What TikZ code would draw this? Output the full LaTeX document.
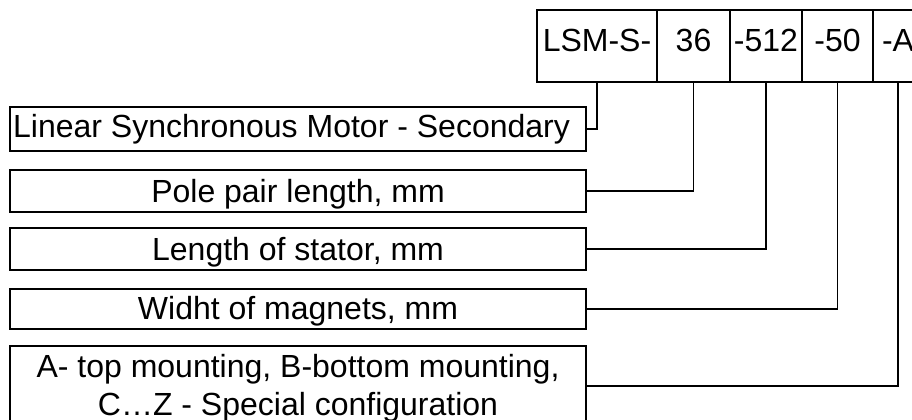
\documentclass[tikz,border=0pt]{standalone}
\usepackage{fontspec}
\setmainfont{Liberation Sans}
\begin{document}
\begin{tikzpicture}[x=1bp,y=-1bp,
  box/.style={draw=black,line width=1.4bp,rectangle,inner sep=0pt,fill=white},
  txt/.style={inner sep=0pt,font=\fontsize{32bp}{38bp}\selectfont,text=black},
  wire/.style={draw=black,line width=1.4bp}]
\useasboundingbox (0,0) rectangle (912,419);
\clip (0,0) rectangle (912,419);
\fill[white] (0,0) rectangle (912,419);
% top code boxes
\node[box,minimum width=120bp,minimum height=72bp] (c1) at (597,46) {};
\node[box,minimum width=73bp,minimum height=72bp] (c2) at (693.5,46) {};
\node[box,minimum width=72bp,minimum height=72bp] (c3) at (766,46) {};
\node[box,minimum width=71bp,minimum height=72bp] (c4) at (837.5,46) {};
\node[box,minimum width=50bp,minimum height=72bp] (c5) at (898,46) {};
\node[txt,anchor=base] (tc1) at (597,51) {LSM-S-};
\node[txt,anchor=base] (tc2) at (693.5,51) {36};
\node[txt,anchor=base] (tc3) at (766,51) {-512};
\node[txt,anchor=base] (tc4) at (837.5,51) {-50};
\node[txt,anchor=base] (tc5) at (898,51) {-A};
% left description boxes
\node[box,minimum width=576bp,minimum height=44bp] (b1) at (298,129) {};
\node[box,minimum width=576bp,minimum height=42bp] (b2) at (298,191) {};
\node[box,minimum width=576bp,minimum height=42bp] (b3) at (298,249) {};
\node[box,minimum width=576bp,minimum height=40bp] (b4) at (298,309) {};
\node[box,minimum width=576bp,minimum height=80bp] (b5) at (298,386) {};
\node[txt,anchor=base west] (t1) at (13,137) {Linear Synchronous Motor - Secondary};
\node[txt,anchor=base] (t2) at (298,202) {Pole pair length, mm};
\node[txt,anchor=base] (t3) at (298,260) {Length of stator, mm};
\node[txt,anchor=base] (t4) at (298,319) {Widht of magnets, mm};
\node[txt,anchor=base] (t5a) at (298,377) {A- top mounting, B-bottom mounting,};
\node[txt,anchor=base] (t5b) at (298,415) {C…Z - Special configuration};
% connectors
\draw[wire] (b1.east) -- (b1.east -| c1.south) -- (c1.south);
\draw[wire] (b2.east) -- (b2.east -| c2.south) -- (c2.south);
\draw[wire] (b3.east) -- (b3.east -| c3.south) -- (c3.south);
\draw[wire] (b4.east) -- (b4.east -| c4.south) -- (c4.south);
\draw[wire] (b5.east) -- (b5.east -| c5.south) -- (c5.south);
\end{tikzpicture}
\end{document}
